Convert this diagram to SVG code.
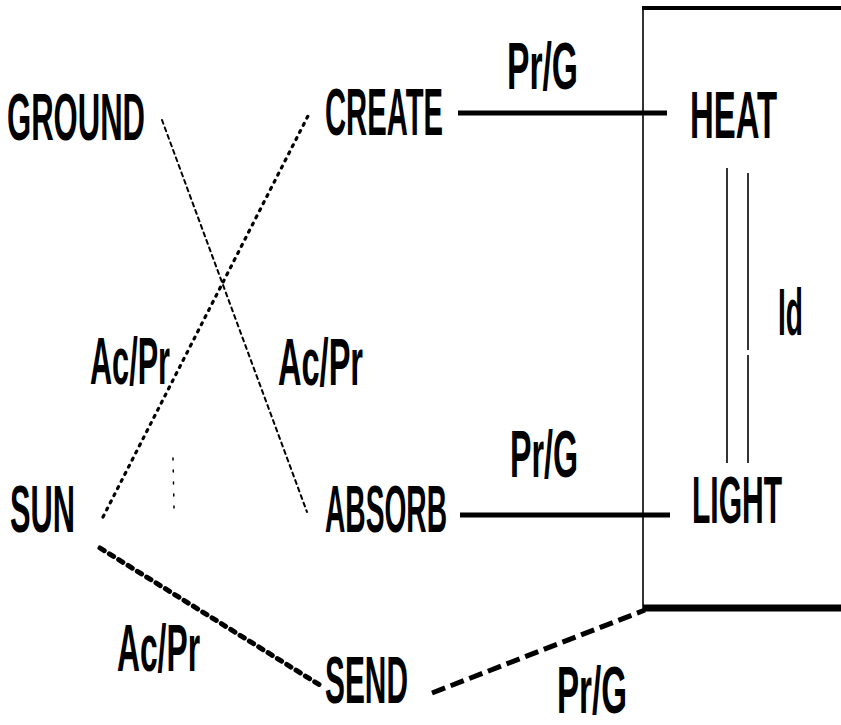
<svg xmlns="http://www.w3.org/2000/svg" width="841" height="725" viewBox="0 0 841 725">
<style>
text{font-family:"Liberation Sans",Arial,sans-serif;font-weight:bold;font-size:66px;fill:#000;lengthAdjust:spacingAndGlyphs}
.solid{stroke:#000;fill:none}
.dots{stroke:#000;fill:none;stroke-linecap:round}
</style>
<rect width="841" height="725" fill="#fff"/>
<g id="connectors">
<line class="solid" x1="458" y1="113" x2="667" y2="113" stroke-width="5"/>
<line class="solid" x1="460" y1="515" x2="670" y2="515" stroke-width="5"/>
<line class="solid" x1="643" y1="7" x2="643" y2="611" stroke-width="1.6"/>
<line class="solid" x1="642" y1="8" x2="841" y2="8" stroke-width="4"/>
<line class="solid" x1="643" y1="608" x2="841" y2="608" stroke-width="7"/>
<line class="solid" x1="727" y1="168" x2="727" y2="463" stroke-width="1.6"/>
<line class="solid" x1="748" y1="173" x2="748" y2="350" stroke-width="1.6"/>
<line class="solid" x1="748" y1="355" x2="748" y2="463" stroke-width="1.6"/>
<line class="dots" x1="103" y1="517" x2="310" y2="112" stroke-width="3.2" stroke-dasharray="2 6"/>
<line class="dots" x1="162" y1="120" x2="307" y2="512" stroke-width="2" stroke-dasharray="4 4"/>
<line class="dots" x1="100" y1="548" x2="323" y2="687" stroke-width="5" stroke-dasharray="5 6"/>
<line class="solid" x1="432" y1="693" x2="645" y2="610" stroke-width="5" stroke-dasharray="14 6"/>
<line class="dots" x1="173" y1="458" x2="174" y2="508" stroke-width="1.5" stroke-dasharray="2 10"/>
</g>
<g id="GROUND"><text x="7" y="140" textLength="138" lengthAdjust="spacingAndGlyphs">GROUND</text></g>
<g id="CREATE"><text x="325" y="135" textLength="118" lengthAdjust="spacingAndGlyphs">CREATE</text></g>
<g id="HEAT"><text x="690" y="138" textLength="87" lengthAdjust="spacingAndGlyphs">HEAT</text></g>
<g id="SUN"><text x="10" y="532" textLength="65" lengthAdjust="spacingAndGlyphs">SUN</text></g>
<g id="ABSORB"><text x="325" y="532" textLength="122" lengthAdjust="spacingAndGlyphs">ABSORB</text></g>
<g id="LIGHT"><text x="692" y="523" textLength="90" lengthAdjust="spacingAndGlyphs">LIGHT</text></g>
<g id="SEND"><text x="325" y="703" textLength="83" lengthAdjust="spacingAndGlyphs">SEND</text></g>
<g id="labels">
<text x="507" y="89" textLength="71" lengthAdjust="spacingAndGlyphs">Pr/G</text>
<text x="778" y="335" textLength="25" lengthAdjust="spacingAndGlyphs">Id</text>
<text x="90" y="384" textLength="80" lengthAdjust="spacingAndGlyphs">Ac/Pr</text>
<text x="278" y="385" textLength="85" lengthAdjust="spacingAndGlyphs">Ac/Pr</text>
<text x="510" y="477" textLength="68" lengthAdjust="spacingAndGlyphs">Pr/G</text>
<text x="117" y="671" textLength="83" lengthAdjust="spacingAndGlyphs">Ac/Pr</text>
<text x="557" y="713" textLength="70" lengthAdjust="spacingAndGlyphs">Pr/G</text>
</g>
</svg>
